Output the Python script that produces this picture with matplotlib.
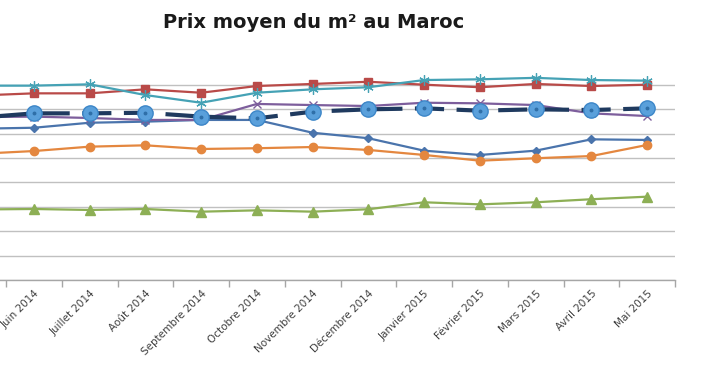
import matplotlib
matplotlib.use("Agg")
import matplotlib.pyplot as plt
import numpy as np

months = ["Mai 2014", "Juin 2014", "Juillet 2014", "Août 2014", "Septembre 2014",
          "Octobre 2014", "Novembre 2014", "Décembre 2014", "Janvier 2015",
          "Février 2015", "Mars 2015", "Avril 2015", "Mai 2015"]

serie_bleue = [12400, 12480, 12890, 12980, 13120, 13120, 12070, 11620, 10600, 10250, 10600, 11530, 11480]
serie_rouge = [15120, 15300, 15300, 15630, 15350, 15900, 16070, 16250, 16010, 15800, 16070, 15900, 16010]
serie_verte = [5780, 5820, 5740, 5820, 5600, 5710, 5600, 5800, 6370, 6200, 6370, 6620, 6830]
serie_violette = [13360, 13390, 13280, 13120, 13120, 14430, 14340, 14260, 14530, 14480, 14340, 13660, 13440]
serie_turquoise = [15930, 15930, 16040, 15160, 14530, 15350, 15630, 15800, 16390, 16450, 16570, 16390, 16340]
serie_orange = [10340, 10570, 10930, 11040, 10740, 10800, 10900, 10660, 10250, 9780, 9980, 10160, 11070]
moyenne = [13300, 13660, 13660, 13710, 13390, 13250, 13800, 13990, 14070, 13880, 13990, 13930, 14070]

fig = plt.figure(figsize=(7.1, 3.75), dpi=100)
W, H = 710, 375
left_px, right_px = -49.75, 675
bottom_px, top_px = 280, 60.4
ax = fig.add_axes([left_px / W, (H - bottom_px) / H, (right_px - left_px) / W, (bottom_px - top_px) / H])

x = np.arange(len(months))
lw = 1.6
ax.plot(x, serie_bleue, color="#4A74AC", lw=lw, marker="D", ms=4.5, mfc="#4A74AC", mec="#4A74AC", zorder=3)
ax.plot(x, serie_rouge, color="#B94A48", lw=lw, marker="s", ms=6, mfc="#B94A48", mec="#B94A48", zorder=3)
ax.plot(x, serie_verte, color="#8DAF55", lw=lw, marker="^", ms=6.5, mfc="#8DAF55", mec="#8DAF55", zorder=3)
ax.plot(x, serie_violette, color="#7D5E9C", lw=lw, marker="x", ms=6, mew=1.0, zorder=3)
ax.plot(x, serie_turquoise, color="#45A2B5", lw=lw, marker=(6, 2, 0), ms=7.5, mew=0.9, zorder=3)
ax.plot(x, serie_orange, color="#E4873F", lw=lw, marker="o", ms=6, mfc="#E4873F", mec="#E4873F", zorder=3)
ax.plot(x, moyenne, color="#1F3A5F", lw=3.0, ls=(0, (7, 3)), zorder=4)
ax.plot(x, moyenne, ls="none", marker="o", ms=11, mfc="#5AA0DB", mec="#3C86C8", mew=1.0, zorder=5)
ax.plot(x, moyenne, ls="none", marker="o", ms=1.8, mfc="#2F6FA8", mec="#2F6FA8", zorder=6)

ax.set_xlim(-0.5, len(months) - 0.5)
ax.set_ylim(0, 18000)
ax.set_yticks(np.arange(0, 18000, 2000))
ax.yaxis.grid(True, color="#C0C0C0", lw=1.0)
ax.set_axisbelow(True)
ax.tick_params(axis="y", left=False, labelleft=False)
for s in ["top", "right", "left"]:
    ax.spines[s].set_visible(False)
ax.spines["bottom"].set_color("#A6A6A6")
ax.spines["bottom"].set_linewidth(1.0)

# the first category lies outside the visible (cropped) area: only visible labels are shown
ax.set_xticks(x[1:])
ax.set_xticklabels(months[1:], rotation=45, ha="right", va="top", rotation_mode="anchor",
                   fontsize=7.5, color="#404040")
ax.tick_params(axis="x", which="major", length=0, pad=6)
ax.set_xticks(np.arange(-0.5, len(months), 1.0), minor=True)
ax.tick_params(axis="x", which="minor", length=5, color="#A6A6A6", width=1.0, direction="out")

fig.text(314 / W, 1 - 22 / H, "Prix moyen du m² au Maroc", ha="center", va="center",
         fontsize=14, fontweight="bold", color="#1a1a1a")

fig.savefig("out.png", dpi=100, facecolor="white")
